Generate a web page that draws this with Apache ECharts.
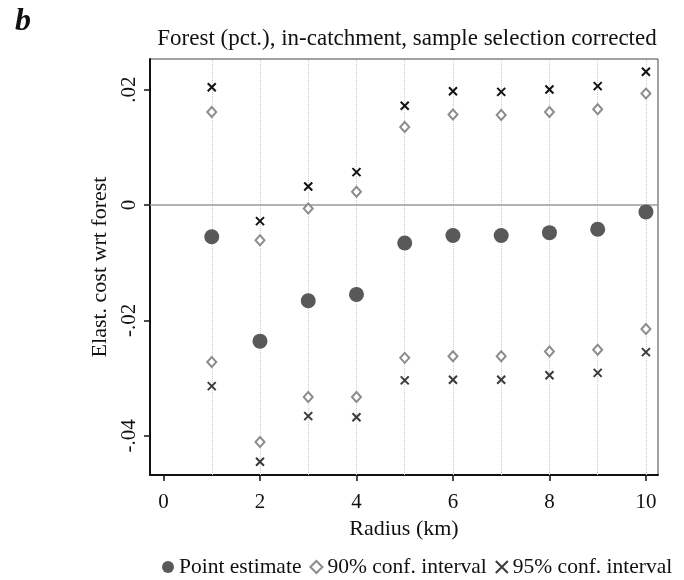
<!DOCTYPE html>
<html>
<head>
<meta charset="utf-8">
<script src="https://cdn.jsdelivr.net/npm/echarts@6/dist/echarts.min.js"></script>
<style>
  html, body { margin: 0; padding: 0; background: #fff; }
  #main { width: 684px; height: 580px; }
</style>
</head>
<body>
<div id="main"></div>
<script>
// values
var radius = [1, 2, 3, 4, 5, 6, 7, 8, 9, 10];
var pointEst = [-0.0055, -0.0236, -0.0166, -0.0155, -0.0066, -0.0053, -0.0053, -0.0048, -0.0042, -0.0012];
var ci90Upper = [0.0161, -0.0061, -0.0006, 0.0023, 0.0135, 0.0157, 0.0156, 0.0161, 0.0166, 0.0193];
var ci90Lower = [-0.0272, -0.0411, -0.0333, -0.0333, -0.0265, -0.0262, -0.0262, -0.0254, -0.0251, -0.0215];
var ci95Upper = [0.0204, -0.0028, 0.0032, 0.0057, 0.0172, 0.0197, 0.0196, 0.0200, 0.0206, 0.0231];
var ci95Lower = [-0.0314, -0.0445, -0.0366, -0.0368, -0.0304, -0.0303, -0.0303, -0.0295, -0.0291, -0.0255];
var xTicks = [0, 2, 4, 6, 8, 10];
var yTicks = [-0.04, -0.02, 0, 0.02];

var serif = '"Liberation Serif", "Times New Roman", serif';
var crossPath = 'path://M0,0L10,10M10,0L0,10';

function pairs(ys) {
    return radius.map(function (r, i) { return [r, ys[i]]; });
}

var myChart = echarts.init(document.getElementById('main'));

myChart.setOption({
    backgroundColor: '#ffffff',
    animation: false,
    title: [
        {
            text: 'b',
            left: 10,
            top: 1,
            textStyle: { fontFamily: serif, fontSize: 32, fontWeight: 'bold', fontStyle: 'italic', color: '#111' }
        },
        {
            text: 'Forest (pct.), in-catchment, sample selection corrected',
            left: 402,
            textAlign: 'center',
            top: 22,
            textStyle: { fontFamily: serif, fontSize: 23, fontWeight: 'normal', color: '#111' }
        }
    ],
    grid: {
        left: 150,
        right: 26,
        top: 59,
        bottom: 105,
        show: true,
        borderColor: '#444',
        borderWidth: 1
    },
    legend: {
        left: 162,
        top: 556,
        padding: 0,
        width: 522,
        itemWidth: 12,
        itemHeight: 12,
        itemGap: 8,
        textStyle: { fontFamily: serif, fontSize: 21.5, color: '#111' },
        data: ['Point estimate', '90% conf. interval', '95% conf. interval']
    },
    xAxis: {
        type: 'value',
        min: -0.28,
        max: 10.25,
        name: 'Radius (km)',
        nameLocation: 'middle',
        nameGap: 37,
        nameTextStyle: { fontFamily: serif, fontSize: 22, color: '#111' },
        axisLine: { show: true, onZero: false, lineStyle: { color: '#111', width: 2 } },
        axisTick: { show: true, length: 6, customValues: xTicks, lineStyle: { color: '#111', width: 1.5 } },
        axisLabel: { customValues: xTicks, margin: 17, fontFamily: serif, fontSize: 21, color: '#111' },
        splitLine: { show: false }
    },
    yAxis: {
        type: 'value',
        min: -0.0468,
        max: 0.0253,
        name: 'Elast. cost wrt forest',
        nameLocation: 'middle',
        nameGap: 36,
        nameTextStyle: { fontFamily: serif, fontSize: 22, color: '#111' },
        axisLine: { show: true, onZero: false, lineStyle: { color: '#111', width: 2 } },
        axisTick: { show: true, length: 6, customValues: yTicks, lineStyle: { color: '#111', width: 1.5 } },
        axisLabel: {
            customValues: yTicks,
            rotate: 90,
            margin: 10,
            fontFamily: serif,
            fontSize: 21,
            color: '#111',
            formatter: function (v) {
                if (Math.abs(v) < 1e-9) return '0';
                return v.toFixed(2).replace('0.', '.');
            }
        },
        splitLine: { show: false }
    },
    series: [
        {
            // reference lines only
            type: 'scatter',
            data: [],
            z: 1,
            silent: true,
            markLine: {
                z: 1,
                symbol: 'none',
                silent: true,
                label: { show: false },
                data: radius.map(function (r) {
                    return { xAxis: r, lineStyle: { color: '#cccccc', type: 'dotted', width: 1 } };
                }).concat([{ yAxis: 0, lineStyle: { color: '#9a9a9a', type: 'solid', width: 1.5 } }])
            }
        },
        {
            name: 'Point estimate',
            type: 'scatter',
            z: 3,
            symbol: 'circle',
            symbolSize: 15,
            itemStyle: { color: '#595959', opacity: 1 },
            data: pairs(pointEst)
        },
        {
            name: '90% conf. interval',
            type: 'scatter',
            z: 3,
            symbol: 'diamond',
            symbolSize: [9, 10],
            itemStyle: { color: '#ffffff', borderColor: '#8c8c8c', borderWidth: 2, opacity: 1 },
            data: pairs(ci90Upper).concat(pairs(ci90Lower))
        },
        {
            name: '95% conf. interval',
            type: 'scatter',
            z: 3,
            symbol: crossPath,
            symbolSize: 8,
            itemStyle: { color: '#3a3a3a', borderColor: '#3a3a3a', borderWidth: 2, opacity: 1 },
            data: pairs(ci95Upper).map(function (p) {
                return { value: p, itemStyle: { color: '#111', borderColor: '#111' } };
            }).concat(pairs(ci95Lower))
        }
    ]
});
</script>
</body>
</html>
